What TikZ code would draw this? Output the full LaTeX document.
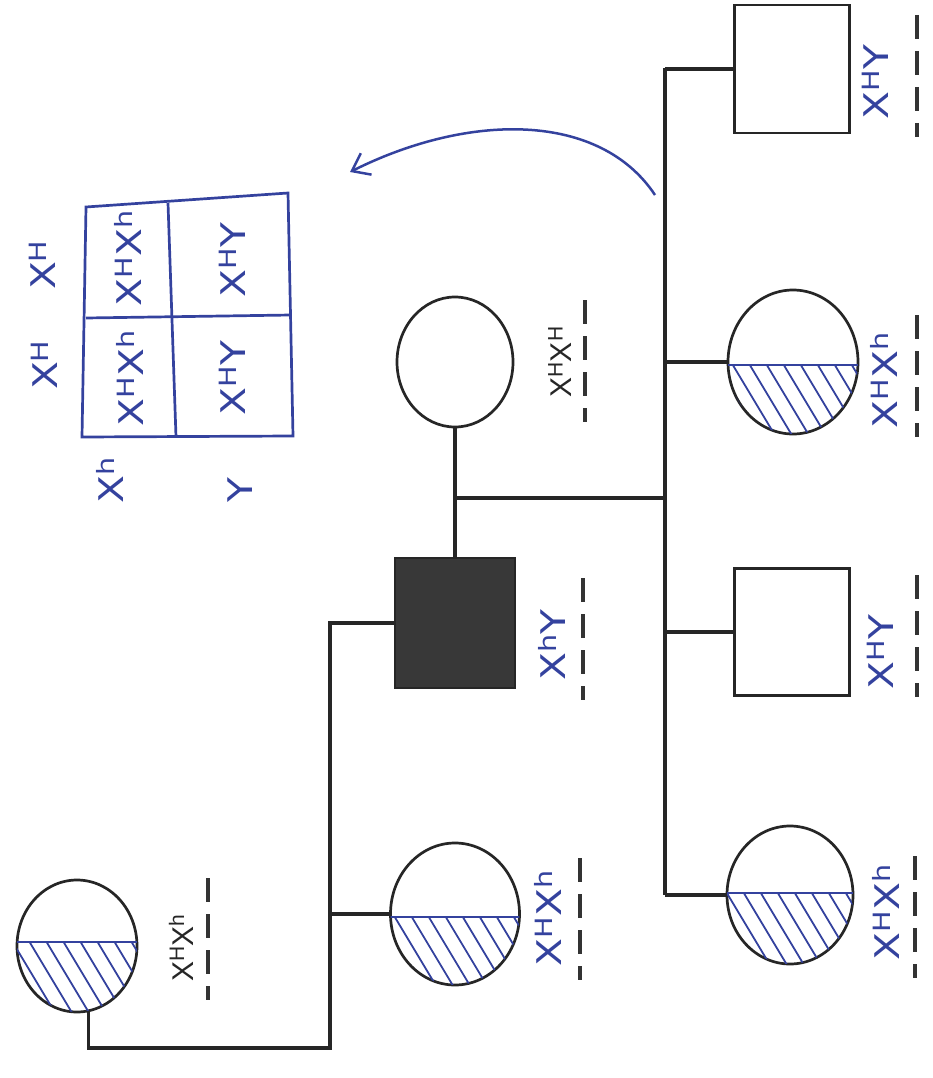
\documentclass[tikz,border=0pt]{standalone}
\usepackage{fontspec}
\setmainfont{Liberation Sans}
\newfontfamily\handfont[FakeStretch=1.2]{DejaVu Sans}
\usetikzlibrary{shapes.geometric,arrows.meta}
\definecolor{pen}{RGB}{52,66,158}
\newcommand{\hatchell}[5]{%
  \begin{scope}
    \clip (#1,#2) ellipse [x radius=#3, y radius=#4];
    \draw[pen, line width=2.4pt] (#1-#3-2,#5) -- (#1+#3+2,#5);
    \clip (#1-#3-2,#5) rectangle (#1+#3+2,#2+#4+2);
    \foreach \k in {-198,-181,...,200}
      \draw[pen, line width=1.8pt] (#1+\k-60,#2-100) -- (#1+\k+60,#2+100);
  \end{scope}}
\begin{document}
\begin{tikzpicture}[x=1pt,y=-1pt,
  fem/.style={ellipse, draw=black!85, line width=2.7pt, inner sep=0pt},
  male/.style={rectangle, draw=black!85, line width=2.7pt, inner sep=0pt},
  conn/.style={line width=3.2pt, draw=black!85},
  prt/.style={rotate=90, font=\fontsize{30}{30}\selectfont, text=black!85, inner sep=0pt},
  hand/.style={rotate=90, font=\handfont\fontsize{34}{34}\selectfont, text=pen, inner sep=0pt},
  dsh/.style={line width=3.8pt, dash pattern=on 24pt off 12pt, draw=black!80},
  grid/.style={line width=2.7pt, draw=pen}]
\useasboundingbox (0,0) rectangle (932,1078);

% individuals
\node[fem, minimum width=120pt, minimum height=132pt] (gm) at (77,946) {};
\node[male, fill=black!78, minimum width=120pt, minimum height=130pt] (f) at (455,623) {};
\node[fem, minimum width=116pt, minimum height=130pt] (m) at (455,362) {};
\node[fem, minimum width=129pt, minimum height=142pt] (a) at (455,914) {};
\node[male, minimum width=115pt, minimum height=128pt] (s1) at (792,69) {};
\node[fem, minimum width=130pt, minimum height=144pt] (c2) at (793,362) {};
\node[male, minimum width=115pt, minimum height=127pt] (s3) at (792,632) {};
\node[fem, minimum width=126pt, minimum height=138pt] (c4) at (790,895) {};

% hatching of carriers
\hatchell{77}{946}{60}{66}{942}
\hatchell{455}{914}{64.5}{71}{917}
\hatchell{793}{362}{65}{72}{365}
\hatchell{790}{895}{63}{69}{893}

% connectors
\coordinate (j1) at (330,1048);
\draw[conn] (gm.-80) |- (j1) |- (f.west);
\draw[conn] (a.west) -- (a.west -| j1);
\draw[conn] (m) -- (f);
\coordinate (sb) at (455,498);
\coordinate (sj) at (665,498);
\coordinate (st) at (665,68);
\coordinate (sbot) at (665,895);
\draw[conn] (sb) -- (sj);
\draw[conn] (st) -- (sbot);
\draw[conn] (s1.west) -- (s1.west -| st);
\draw[conn] (c2.west) -- (c2.west -| st);
\draw[conn] (s3.west) -- (s3.west -| st);
\draw[conn] (c4.west) -- (c4.west -| st);

% genotype labels
\node[prt] (lgm) at (181,948) {X\textsuperscript{H}X\textsuperscript{h}};
\draw[dsh] (208,878) -- (208,1000);
\node[prt] (lm) at (560,362) {X\textsuperscript{H}X\textsuperscript{H}};
\draw[dsh] (585,300) -- (585,422);
\node[hand] (lf) at (552,645) {X\textsuperscript{h}Y};
\draw[dsh] (583,578) -- (583,700);
\node[hand] (la) at (548,918) {X\textsuperscript{H}X\textsuperscript{h}};
\draw[dsh] (580,858) -- (580,980);
\node[hand] (ls1) at (875,82) {X\textsuperscript{H}Y};
\draw[dsh] (917,15) -- (917,137);
\node[hand] (lc2) at (884,380) {X\textsuperscript{H}X\textsuperscript{h}};
\draw[dsh] (917,315) -- (917,437);
\node[hand] (ls3) at (880,652) {X\textsuperscript{H}Y};
\draw[dsh] (917,575) -- (917,697);
\node[hand] (lc4) at (886,912) {X\textsuperscript{H}X\textsuperscript{h}};
\draw[dsh] (915,856) -- (915,978);

% arrow to the Punnett square
\coordinate (at) at (655,195);
\coordinate (ah) at (350,172);
\draw[pen, line width=2.5pt, -{Straight Barb[length=16pt,width=24pt]}]
  (at) .. controls (600,112) and (470,112) .. (ah);

% Punnett square
\draw[grid] (86,207) -- (288,193) -- (293,436) -- (82,437) -- cycle;
\draw[grid] (168,203) -- (176,437);
\draw[grid] (86,318) -- (291,315);
\node[hand] (p11) at (128,258) {X\textsuperscript{H}X\textsuperscript{h}};
\node[hand] (p12) at (130,378) {X\textsuperscript{H}X\textsuperscript{h}};
\node[hand] (p21) at (232,260) {X\textsuperscript{H}Y};
\node[hand] (p22) at (232,378) {X\textsuperscript{H}Y};
\node[hand] (h1) at (42,265) {X\textsuperscript{H}};
\node[hand] (h2) at (44,365) {X\textsuperscript{H}};
\node[hand] (h3) at (110,480) {X\textsuperscript{h}};
\node[hand] (h4) at (240,490) {Y};
\end{tikzpicture}
\end{document}
